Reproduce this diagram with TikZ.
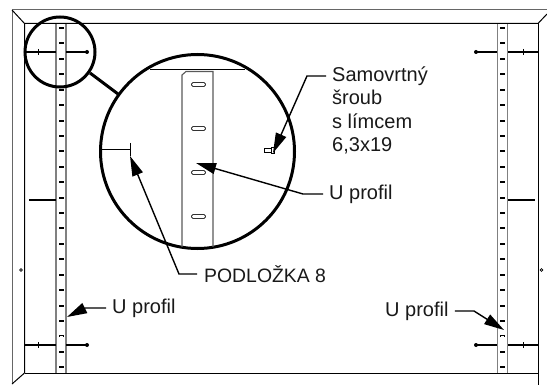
\documentclass[tikz,border=0pt]{standalone}
\usepackage{fontspec}
\setmainfont{Liberation Sans}
\usetikzlibrary{arrows.meta}
\tikzset{
  popis/.style={inner sep=0pt, anchor=west, align=left, font=\fontsize{20}{23.3}\selectfont, text=black!90},
  odkaz/.style={line width=1.4pt, -{Triangle[length=20pt,width=11pt]}},
  kruh/.style={line width=3pt},
  ram/.style={line width=1pt},
  lista/.style={line width=1.6pt, draw=black!50},
}
\begin{document}
\begin{tikzpicture}[x=1pt, y=-1pt]
  \useasboundingbox (0,0) rectangle (547,385);

  % ram
  \draw[ram, black!60] (547,10) -- (12,10) -- (12,384);
  \draw[ram] (12,10) -- (24.5,23.5) -- (24.5,373) -- (12,384);
  \draw[ram] (547,14) -- (538,23.5) -- (24.5,23.5);
  \draw[ram] (24.5,373) -- (538,373);
  \draw[ram] (538,23.5) -- (538,385);
  \draw[line width=0.8pt] (21,270) circle (1.4);
  \draw[line width=0.8pt] (541.5,270) circle (1.4);

  % listy a otvory
  \foreach \x in {61,502.5} {
    \draw[lista] (\x-5,24) -- (\x-5,373);
    \draw[lista] (\x+5,24) -- (\x+5,373);
    \foreach \i in {0,...,22} {
      \pgfmathsetmacro\otvor{round(28+15.42*\i)}
      \fill ({\x-2.5},\otvor-0.9) rectangle ({\x+2.5},\otvor+0.9);
    }
    \fill[white] (\x-1.5,336) rectangle (\x+1.5,337);
  }

  % srouby
  \foreach \y in {52,345} {
    \draw[line width=1.8pt] (24.5,\y) -- (38,\y);
    \draw[line width=1.1pt] (38,\y) -- (56,\y);
    \draw[line width=1pt] (38,\y-3) -- (38,\y+3);
    \draw[line width=1.1pt] (66,\y) -- (87,\y);
    \fill (87,\y) circle (2);
    \draw[line width=1.1pt] (476,\y) -- (497,\y);
    \fill (476,\y) circle (2);
    \draw[line width=1.1pt] (508,\y) -- (523,\y);
    \draw[line width=1.8pt] (523,\y) -- (538,\y);
    \draw[line width=1pt] (523,\y-3) -- (523,\y+3);
  }
  \draw[line width=1.3pt] (29,200) -- (56,200);
  \draw[line width=1.3pt] (508,200) -- (535,200);

  % detail
  \coordinate (detailA) at (90,73);
  \coordinate (detailB) at (118,94);
  \draw[kruh] (60,52) circle (35);
  \draw[kruh] (197.5,151.5) circle (97);
  \draw[kruh] (detailA) -- (detailB);
  \draw[line width=0.9pt] (150,69) -- (245,69);
  \draw[line width=1.1pt, black!65] (182,247) -- (182,75) -- (186,71.5) -- (213,71.5) -- (213,247);
  \foreach \y in {84.5,128.5,172.5,216.5}
    \draw[line width=0.8pt, black!80, rounded corners=1.5] (191.5,\y-2) rectangle (205.5,\y+2);
  \draw[line width=1pt] (101,150) -- (130,150);
  \draw[line width=1pt] (130,143) -- (130,156);
  \draw[line width=0.6pt] (264,148.5) rectangle (271,152);
  \draw[line width=0.8pt] (271,147) rectangle (274,153);

  % popisky
  \node[popis, anchor=north west] (sroub) at (332,66.5) {Samovrtný\\šroub\\s límcem\\6,3x19};
  \node[popis] (profilA) at (329,194) {U profil};
  \node[popis, font=\fontsize{19.4}{23.3}\selectfont] (podlozka) at (204,274) {PODLOŽKA 8};
  \node[popis] (profilB) at (112,308) {U profil};
  \node[popis] (profilC) at (385,311) {U profil};

  % odkazy
  \coordinate (sroubTip) at (273,153);
  \coordinate (profilTip) at (196,163);
  \coordinate (podlozkaTip) at (130,156);
  \coordinate (profilBTip) at (67,317);
  \coordinate (profilCTip) at (504,330);
  \draw[odkaz] (326,76) -- (307,76) -- (sroubTip);
  \draw[odkaz] (profilA.west) ++(-6,0) -- (303,194) -- (profilTip);
  \draw[odkaz] (podlozka.west) ++(-7,0) -- (179,274) -- (podlozkaTip);
  \draw[odkaz] (profilB.west) ++(-6,0) -- (85,308) -- (profilBTip);
  \draw[odkaz] (profilC.east) ++(6,0) -- (474,311) -- (profilCTip);
\end{tikzpicture}
\end{document}
